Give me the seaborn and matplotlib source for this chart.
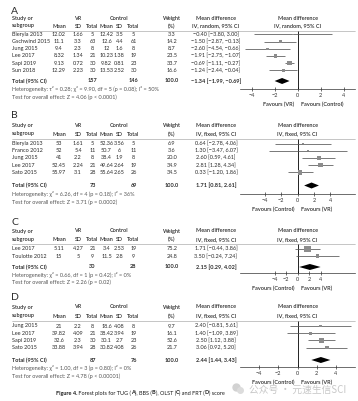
import matplotlib
matplotlib.use("Agg")
import matplotlib.pyplot as plt
import seaborn as sns
import pandas as pd
from matplotlib.lines import Line2D

sns.set_theme(style="white")
plt.rcParams['font.family'] = ['Lato', 'DejaVu Sans']

W, H = 358, 401

# ---- data ----
# A: TUG
a_study = ['Bieryla 2013', 'Gschwind 2015', 'Jung 2015', 'Lee 2017', 'Sapi 2019', 'Sun 2018']
a_vr_mean = ['12.02', '11.1', '9.4', '8.32', '9.13', '12.29']
a_vr_sd = ['1.66', '3.3', '2.3', '1.34', '0.72', '2.23']
a_vr_n = [5, 63, 8, 21, 30, 30]
a_ct_mean = ['12.42', '12.6', '12', '10.23', '9.82', '13.53']
a_ct_sd = ['3.5', '4.4', '1.6', '1.38', '0.81', '2.52']
a_ct_n = [5, 61, 8, 19, 23, 30]
a_weight = [3.3, 14.2, 8.7, 23.5, 33.7, 16.6]
a_md = [-0.40, -1.50, -2.60, -1.91, -0.69, -1.24]
a_lo = [-3.80, -2.87, -4.54, -2.75, -1.11, -2.44]
a_hi = [3.00, -0.13, -0.66, -1.07, -0.27, -0.04]
a_total = [-1.34, -1.99, -0.69]

# B: BBS
b_study = ['Bieryla 2013', 'Franco 2012', 'Jung 2015', 'Lee 2017', 'Sato 2015']
b_vr_mean = ['53', '52', '41', '52.45', '55.97']
b_vr_sd = ['1.61', '5.4', '2.2', '2.24', '3.1']
b_vr_n = [5, 11, 8, 21, 28]
b_ct_mean = ['52.36', '50.7', '38.4', '49.64', '55.64']
b_ct_sd = ['3.56', '6', '1.9', '2.64', '2.65']
b_ct_n = [5, 11, 8, 19, 26]
b_weight = [6.9, 3.6, 20.0, 34.9, 34.5]
b_md = [0.64, 1.30, 2.60, 2.81, 0.33]
b_lo = [-2.78, -3.47, 0.59, 1.28, -1.20]
b_hi = [4.06, 6.07, 4.61, 4.34, 1.86]
b_total = [1.71, 0.81, 2.61]

# C: OLST
c_study = ['Lee 2017', 'Toulotte 2012']
c_vr_mean = ['5.11', '15']
c_vr_sd = ['4.27', '5']
c_vr_n = [21, 9]
c_ct_mean = ['3.4', '11.5']
c_ct_sd = ['2.53', '2.8']
c_ct_n = [19, 9]
c_weight = [75.2, 24.8]
c_md = [1.71, 3.50]
c_lo = [-0.44, -0.24]
c_hi = [3.86, 7.24]
c_total = [2.15, 0.29, 4.02]

# D: FRT
d_study = ['Jung 2015', 'Lee 2017', 'Sapi 2019', 'Sato 2015']
d_vr_mean = ['21', '39.82', '32.6', '33.88']
d_vr_sd = ['2.2', '4.09', '2.3', '3.94']
d_vr_n = [8, 21, 30, 28]
d_ct_mean = ['18.6', '38.42', '30.1', '30.82']
d_ct_sd = ['4.08', '3.94', '2.7', '4.08']
d_ct_n = [8, 19, 23, 26]
d_weight = [9.7, 16.1, 52.6, 21.7]
d_md = [2.40, 1.40, 2.50, 3.06]
d_lo = [-0.81, -1.09, 1.12, 0.92]
d_hi = [5.61, 3.89, 3.88, 5.20]
d_total = [2.44, 1.44, 3.43]

het_text = [
    'Heterogeneity: τ² = 0.28; χ² = 9.90, df = 5 (p = 0.08); I² = 50%',
    'Heterogeneity: χ² = 6.26, df = 4 (p = 0.18); I² = 36%',
    'Heterogeneity: χ² = 0.66, df = 1 (p = 0.42); I² = 0%',
    'Heterogeneity: χ² = 1.00, df = 3 (p = 0.80); I² = 0%',
]
test_text = [
    'Test for overall effect: Z = 4.06 (p < 0.0001)',
    'Test for overall effect: Z = 3.71 (p = 0.0002)',
    'Test for overall effect: Z = 2.26 (p = 0.02)',
    'Test for overall effect: Z = 4.78 (p < 0.00001)',
]
method = ['IV, random, 95% CI', 'IV, fixed, 95% CI', 'IV, fixed, 95% CI', 'IV, fixed, 95% CI']
favours = [('Favours (VR)', 'Favours (Control)'), ('Favours (Control)', 'Favours (VR)'),
           ('Favours (Control)', 'Favours (VR)'), ('Favours (Control)', 'Favours (VR)')]
xlims = [5, 7, 10, 6]

panels = [
    ('A', pd.DataFrame(dict(study=a_study, vm=a_vr_mean, vs=a_vr_sd, vn=a_vr_n, cm=a_ct_mean,
                            cs=a_ct_sd, cn=a_ct_n, w=a_weight, md=a_md, lo=a_lo, hi=a_hi)), a_total),
    ('B', pd.DataFrame(dict(study=b_study, vm=b_vr_mean, vs=b_vr_sd, vn=b_vr_n, cm=b_ct_mean,
                            cs=b_ct_sd, cn=b_ct_n, w=b_weight, md=b_md, lo=b_lo, hi=b_hi)), b_total),
    ('C', pd.DataFrame(dict(study=c_study, vm=c_vr_mean, vs=c_vr_sd, vn=c_vr_n, cm=c_ct_mean,
                            cs=c_ct_sd, cn=c_ct_n, w=c_weight, md=c_md, lo=c_lo, hi=c_hi)), c_total),
    ('D', pd.DataFrame(dict(study=d_study, vm=d_vr_mean, vs=d_vr_sd, vn=d_vr_n, cm=d_ct_mean,
                            cs=d_ct_sd, cn=d_ct_n, w=d_weight, md=d_md, lo=d_lo, hi=d_hi)), d_total),
]

# layout, pixel rows: letter, header1, header2, rule, first row, total, het, test, axis line
layout = [
    (12, 18.5, 26, 30.5, 34.3, 81, 89, 97, 89),
    (116, 125.5, 134, 138.5, 143.5, 185.5, 194, 202, 194),
    (222, 231, 239.5, 244, 249, 267, 274.5, 282, 273),
    (297, 307, 316, 320.5, 326, 360, 368, 376, 367),
]
step = 7.2
FS = 4.0
TXT = '#2b2b2b'
cols = dict(vm=59, vs=78, vn=92.5, cm=106.5, cs=119.5, cn=133.5, w=172, ci=216)
FX0, FX1 = 240, 355

fig = plt.figure(figsize=(W / 100, H / 100), dpi=100)


def T(x, y, s, **kw):
    kw.setdefault('fontsize', FS)
    kw.setdefault('va', 'center')
    kw.setdefault('color', TXT)
    return fig.text(x / W, 1 - y / H, s, **kw)


def fmt(v):
    return f'{v:.2f}'.replace('-', '−')


HW = 'semibold'
for k, (letter, df, tot) in enumerate(panels):
    yl, yh1, yh2, yr, y0, yt, yhet, ytest, yax = layout[k]
    T(11, yl, letter, fontsize=7.5)
    T(12, yh1, 'Study or', fontweight=HW)
    T(12, yh2, 'subgroup', fontweight=HW)
    T(cols['vs'], yh1, 'VR', ha='center', fontweight=HW)
    T(cols['cs'], yh1, 'Control', ha='center', fontweight=HW)
    for c, lab in [('vm', 'Mean'), ('vs', 'SD'), ('vn', 'Total'),
                   ('cm', 'Mean'), ('cs', 'SD'), ('cn', 'Total')]:
        T(cols[c], yh2, lab, ha='center', fontweight=HW, fontsize=3.9)
    T(cols['w'], yh1, 'Weight', ha='center', fontweight=HW)
    T(cols['w'], yh2, '(%)', ha='center', fontweight=HW)
    T(cols['ci'], yh1, 'Mean difference', ha='center', fontweight=HW)
    T(cols['ci'], yh2, method[k], ha='center', fontweight=HW)
    T((FX0 + FX1) / 2, yh1, 'Mean difference', ha='center', fontweight=HW)
    T((FX0 + FX1) / 2, yh2, method[k], ha='center', fontweight=HW)
    fig.add_artist(Line2D([12 / W, FX1 / W], [1 - yr / H, 1 - yr / H],
                          color='#9a9a9a', lw=0.4))

    ys = [y0 + step * i for i in range(len(df))]
    for y, (_, r) in zip(ys, df.iterrows()):
        T(12, y, r.study)
        for c in ['vm', 'vs', 'vn', 'cm', 'cs', 'cn']:
            T(cols[c], y, str(r[c]), ha='center')
        T(cols['w'], y, f'{r.w:.1f}', ha='center')
        T(cols['ci'], y, f'{fmt(r.md)} [{fmt(r.lo)}, {fmt(r.hi)}]', ha='center')

    T(12, yt, 'Total (95% CI)', fontweight='bold')
    T(cols['vn'], yt, str(df.vn.sum()), ha='center', fontweight='bold')
    T(cols['cn'], yt, str(df.cn.sum()), ha='center', fontweight='bold')
    T(cols['w'], yt, '100.0', ha='center', fontweight='bold')
    T(cols['ci'], yt, f'{fmt(tot[0])} [{fmt(tot[1])}, {fmt(tot[2])}]', ha='center', fontweight='bold')
    T(12, yhet, het_text[k], color='#555555')
    T(12, ytest, test_text[k], color='#555555')

    # forest plot axes
    ax = fig.add_axes([FX0 / W, 1 - yax / H, (FX1 - FX0) / W, (yax - yr) / H])
    ax.set_facecolor('none')
    ax.set_xlim(-xlims[k], xlims[k])
    ax.set_ylim(yax, yr)
    ax.axvline(0, color='black', lw=0.6)
    ax.hlines(ys, df.lo, df.hi, color='#555555', lw=0.55)
    side = {w: (0.75 * w ** 0.5 * 0.72) ** 2 for w in df.w}
    sns.scatterplot(x=df.md, y=ys, size=df.w, sizes=side, marker='s', color='#8c8c8c',
                    linewidth=0, legend=False, ax=ax, zorder=3)
    ax.fill([tot[1], tot[0], tot[2], tot[0]], [yt, yt - 3, yt, yt + 3], color='black', lw=0)
    for s in ['top', 'left', 'right']:
        ax.spines[s].set_visible(False)
    ax.spines['bottom'].set_linewidth(0.5)
    ax.spines['bottom'].set_color('#333333')
    ax.set_xticks([-4, -2, 0, 2, 4])
    ax.set_yticks([])
    ax.set_xlabel('')
    ax.set_ylabel('')
    ax.tick_params(axis='x', direction='inout', length=2.5, width=0.5, pad=1.5,
                   labelsize=FS, colors='#333333', bottom=True)
    zx = FX0 + (FX1 - FX0) / 2
    T(zx - 3.5, yax + 15.5, favours[k][0], ha='right', fontweight=HW)
    T(zx + 3.5, yax + 15.5, favours[k][1], ha='left', fontweight=HW)

# watermark
fig.add_artist(Line2D([236 / W], [1 - 387 / H], marker='o', ms=5, color='#d2d2d2', lw=0))
fig.add_artist(Line2D([240 / W], [1 - 389.5 / H], marker='o', ms=4, color='#dcdcdc', lw=0))
T(298, 389.5, '公众号 · 元速生信SCI', ha='center', fontsize=7, color='#c8c8c8',
  family=['Noto Sans CJK SC', 'DejaVu Sans'], zorder=5)

# caption with bold pieces
fig.canvas.draw()
r = fig.canvas.get_renderer()
x = 56
for piece, bold in [('Figure 4.', True), (' Forest plots for TUG (', False), ('A', True),
                    ('), BBS (', False), ('B', True), ('), OLST (', False), ('C', True),
                    (') and FRT (', False), ('D', True), (') score', False)]:
    t = T(x, 393, piece, fontsize=4.0, fontweight='bold' if bold else 'normal', color='#1a1a1a')
    x += t.get_window_extent(renderer=r).width

fig.savefig('out.png', dpi=100)
